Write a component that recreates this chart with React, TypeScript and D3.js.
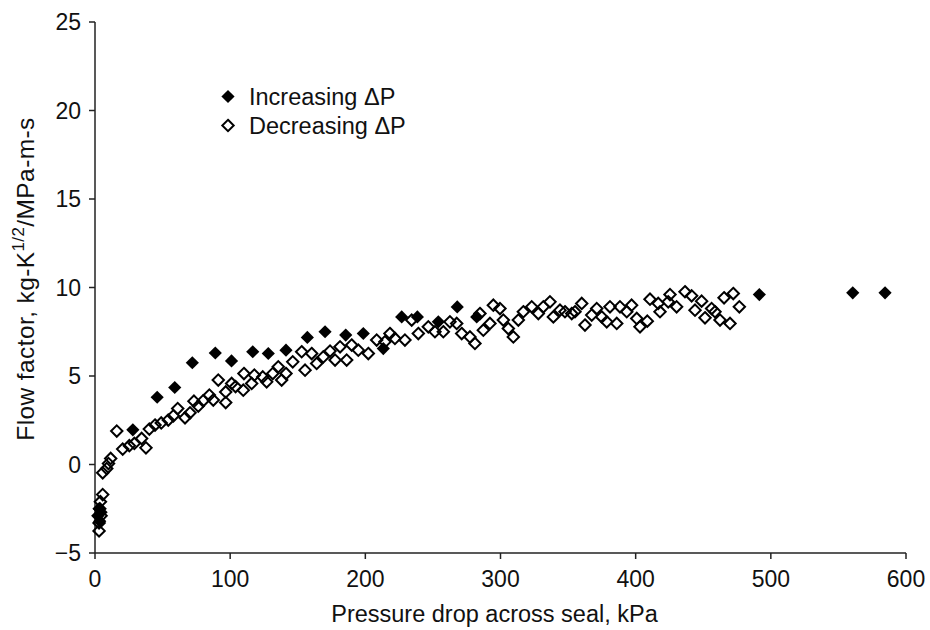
import React from "react";
import * as d3 from "d3";

const WIDTH = 930;
const HEIGHT = 630;
const Margin = { top: 22, right: 24, bottom: 77, left: 95 };
const FONT = "'Liberation Sans', Arial, Helvetica, sans-serif";

const xTicks = [0, 100, 200, 300, 400, 500, 600];
const yTicks = [-5, 0, 5, 10, 15, 20, 25];

// [pressure drop kPa, flow factor]
const increasing: [number, number][] = [
  [2, -2.9], [3, -2.5], [3.5, -3.2], [4.5, -2.7],
  [28, 1.96], [46, 3.8], [59, 4.35], [72, 5.75], [89, 6.3], [101, 5.85],
  [116.7, 6.37], [128.2, 6.27], [141.3, 6.46], [157.1, 7.18], [170.2, 7.5],
  [185.5, 7.31], [198.5, 7.4], [213.3, 6.55], [226.9, 8.34], [238.5, 8.34],
  [254, 8.06], [268, 8.9], [282.4, 8.34], [491.5, 9.6], [560.6, 9.7], [584.5, 9.7]
];

const decreasing: [number, number][] = [
  [5.7, -1.7], [4, -2.1], [3.5, -2.5], [4.5, -2.9], [3, -3.3], [3, -3.75],
  [5.7, -0.47], [8.7, -0.23], [10, 0.05], [11.6, 0.34], [16.1, 1.89], [20.5, 0.87],
  [25.4, 1.06], [29.1, 1.19], [34.5, 1.47], [37.7, 0.94], [40.2, 2.0], [44.4, 2.23],
  [49, 2.35], [54.2, 2.51], [58, 2.75], [61.2, 3.16], [66.6, 2.64], [70.3, 2.92],
  [73.2, 3.58], [76.4, 3.3], [80, 3.6], [84.6, 3.92], [87.5, 3.64], [91.2, 4.77],
  [96.7, 3.5], [96.7, 4.1], [101.1, 4.58], [104, 4.4], [109.7, 4.2], [110.2, 5.14],
  [115.9, 4.58], [117.9, 5.05], [124.1, 4.95], [127, 4.67], [131.5, 5.14], [135.6, 5.52],
  [138.1, 4.77], [141.3, 5.14], [146.3, 5.8], [152.9, 6.37], [155.4, 5.33], [160.3, 6.27],
  [164, 5.71], [168.9, 6.08], [173.9, 6.41], [177.6, 5.9], [181.3, 6.65], [186.2, 5.9],
  [189.9, 6.75], [194.8, 6.46], [202.2, 6.27], [208.4, 7.03], [214.5, 6.93], [218.2, 7.4],
  [221.9, 7.12], [229.3, 7.03], [234.3, 8.16], [239.2, 7.4], [246.6, 7.78], [251.5, 7.5],
  [257.7, 7.5], [262.6, 8.06], [267.6, 7.97], [271.3, 7.4], [277.4, 7.21], [281.1, 6.84],
  [284.8, 8.53], [287.3, 7.59], [292.2, 7.97], [294.7, 9.0], [299.6, 8.81], [302.1, 8.16],
  [305.8, 7.68], [309.5, 7.21], [313.2, 8.16], [316.9, 8.63], [323.1, 8.91], [328, 8.53],
  [331.7, 8.91], [336.6, 9.19], [339.1, 8.34], [344, 8.72], [347.7, 8.63], [352.7, 8.53],
  [355.1, 8.63], [360.1, 9.1], [362.5, 7.88], [367.5, 8.44], [371.2, 8.81], [374.9, 8.34],
  [378.6, 8.06], [381, 8.91], [386, 7.97], [388.4, 8.91], [393.4, 8.63], [397, 9.0],
  [400.8, 8.25], [403.2, 7.78], [408.6, 8.1], [410.6, 9.34], [416.7, 9.1], [418, 8.63],
  [424.1, 9.19], [425.4, 9.6], [430.3, 8.91], [436.5, 9.76], [441.4, 9.53], [443.9, 8.72],
  [448.8, 9.23], [451.3, 8.29], [456.2, 8.81], [458.7, 8.63], [462.4, 8.16], [465.4, 9.42],
  [469.8, 7.97], [472.2, 9.66], [476.7, 8.91]
];

const legendItems = [
  { label: "Increasing \u0394P", filled: true },
  { label: "Decreasing \u0394P", filled: false }
];

const diamond = (r: number) => `M0,${-r}L${r},0L0,${r}L${-r},0Z`;

const App = () => {
  const xScale = d3
    .scaleLinear()
    .domain([0, 600])
    .range([Margin.left, WIDTH - Margin.right]);
  const yScale = d3
    .scaleLinear()
    .domain([-5, 25])
    .range([HEIGHT - Margin.bottom, Margin.top]);

  const x0 = xScale(0);
  const y0 = yScale(-5);

  return (
    <div style={{ position: "absolute", left: 0, top: 0 }}>
      <svg width={WIDTH} height={HEIGHT} style={{ display: "block", background: "#fff" }} fontFamily={FONT}>
        {/* y axis */}
        <line x1={x0} y1={yScale(25)} x2={x0} y2={y0} stroke="#222" strokeWidth={1.5} />
        {yTicks.map((t) => (
          <g key={t} transform={`translate(0, ${yScale(t)})`}>
            <line x1={x0 - 6} x2={x0} stroke="#222" strokeWidth={1.5} />
            <text x={x0 - 14} dy="0.36em" textAnchor="end" fontSize={23} fill="#111">
              {t < 0 ? `\u2212${Math.abs(t)}` : t}
            </text>
          </g>
        ))}
        {/* x axis */}
        <line x1={x0} y1={y0} x2={xScale(600)} y2={y0} stroke="#222" strokeWidth={1.5} />
        {xTicks.map((t) => (
          <g key={t} transform={`translate(${xScale(t)}, 0)`}>
            <line y1={y0} y2={y0 + 6} stroke="#222" strokeWidth={1.5} />
            <text y={y0 + 34} textAnchor="middle" fontSize={23} fill="#111">
              {t}
            </text>
          </g>
        ))}
        <text x={(xScale(0) + xScale(600)) / 2 - 6} y={622} textAnchor="middle" fontSize={23.5} fill="#111">
          Pressure drop across seal, kPa
        </text>
        <text
          transform={`translate(34, 279) rotate(-90)`}
          textAnchor="middle"
          fontSize={24.5}
          letterSpacing={0.4}
          fill="#111"
        >
          Flow factor, kg-K
          <tspan dy={-10} fontSize={17}>1/2</tspan>
          <tspan dy={10}>/MPa-m-s</tspan>
        </text>

        {/* data */}
        {increasing.map(([px, py], i) => (
          <path key={`i${i}`} d={diamond(6.6)} transform={`translate(${xScale(px)}, ${yScale(py)})`} fill="#000" />
        ))}
        {decreasing.map(([px, py], i) => (
          <path
            key={`d${i}`}
            d={diamond(5.7)}
            transform={`translate(${xScale(px)}, ${yScale(py)})`}
            fill="none"
            stroke="#000"
            strokeWidth={2}
          />
        ))}

        {/* legend */}
        {legendItems.map((item, i) => (
          <g key={item.label} transform={`translate(228, ${96.5 + i * 29})`}>
            <path
              d={diamond(item.filled ? 6.6 : 5.7)}
              fill={item.filled ? "#000" : "none"}
              stroke={item.filled ? "none" : "#000"}
              strokeWidth={2}
            />
            <text x={21} dy="0.36em" fontSize={23.5} fill="#111">
              {item.label}
            </text>
          </g>
        ))}
      </svg>
    </div>
  );
};

export default App;
